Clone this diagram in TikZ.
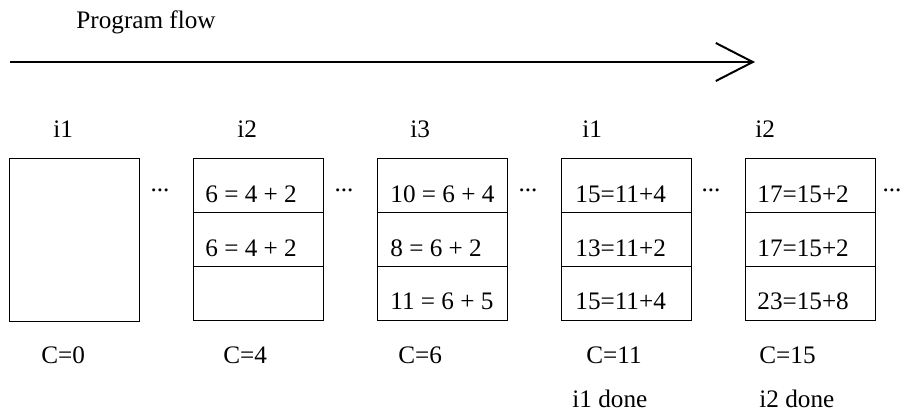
\documentclass[tikz,border=0pt]{standalone}
\usepackage{fontspec}
\setmainfont{Liberation Serif}
\usetikzlibrary{arrows.meta}
\begin{document}
\begin{tikzpicture}[x=0.5pt,y=-0.5pt,
  every node/.style={font=\fontsize{12.6}{15}\selectfont},
  txt/.style={inner sep=0pt, anchor=base west},
  dotsnode/.style={inner sep=0pt, anchor=base},
  cell/.style={draw, line width=0.5pt, inner sep=0pt, minimum width=65pt, minimum height=27.17pt},
  tallcell/.style={draw, line width=0.5pt, inner sep=0pt, minimum width=65pt, minimum height=81.5pt},
  flow/.style={line width=1pt, -{Straight Barb[length=18.5pt, width=19pt, line width=1pt]}}]
\useasboundingbox (0,0) rectangle (904,414);

% program flow arrow
\node[txt] (title) at (76,28) {Program flow};
\coordinate (fs) at (10,62);
\coordinate (fe) at (755,62);
\draw[flow] (fs) -- (fe);

% instruction labels
\node[txt] (l1) at (53,137) {i1};
\node[txt] (l2) at (237,137) {i2};
\node[txt] (l3) at (410,137) {i3};
\node[txt] (l4) at (582,137) {i1};
\node[txt] (l5) at (755,137) {i2};

% first box (empty)
\node[tallcell] (b1) at (74.5,239.5) {};

% boxes with three slots each
\foreach \n/\L in {2/193, 3/377, 4/561, 5/745} {
  \node[cell] (b\n a) at (\L+65,185.2) {};
  \node[cell] (b\n b) at (\L+65,239.5) {};
  \node[cell] (b\n c) at (\L+65,293.8) {};
}

% slot contents
\node[txt] (t2a) at (205,202) {6 = 4 + 2};
\node[txt] (t2b) at (205,256) {6 = 4 + 2};

\node[txt] (t3a) at (390,202) {10 = 6 + 4};
\node[txt] (t3b) at (390,256) {8 = 6 + 2};
\node[txt] (t3c) at (390,309) {11 = 6 + 5};

\node[txt] (t4a) at (575,202) {15=11+4};
\node[txt] (t4b) at (575,256) {13=11+2};
\node[txt] (t4c) at (575,309) {15=11+4};

\node[txt] (t5a) at (757,202) {17=15+2};
\node[txt] (t5b) at (757,256) {17=15+2};
\node[txt] (t5c) at (757,309) {23=15+8};

% ellipses between boxes
\node[dotsnode] (d1) at (160,191) {...};
\node[dotsnode] (d2) at (344,191) {...};
\node[dotsnode] (d3) at (528,191) {...};
\node[dotsnode] (d4) at (711,191) {...};
\node[dotsnode] (d5) at (892,191) {...};

% cycle counters
\node[txt] (c1) at (41,363) {C=0};
\node[txt] (c2) at (223,363) {C=4};
\node[txt] (c3) at (398,363) {C=6};
\node[txt] (c4) at (586,363) {C=11};
\node[txt] (c5) at (759,363) {C=15};

% completion notes
\node[txt] (n4) at (572,407) {i1 done};
\node[txt] (n5) at (759,407) {i2 done};
\end{tikzpicture}
\end{document}
